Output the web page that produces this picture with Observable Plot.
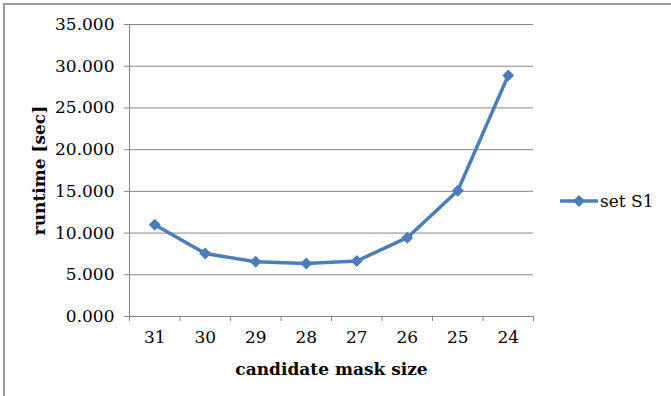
<!DOCTYPE html>
<html>
<head>
<meta charset="utf-8">
<script src="https://cdn.jsdelivr.net/npm/d3@7"></script>
<script src="https://cdn.jsdelivr.net/npm/@observablehq/plot@0.6"></script>
<style>
  html, body { margin: 0; padding: 0; background: #fff; }
  #wrap { position: relative; width: 671px; height: 396px; overflow: hidden; font-family: "DejaVu Serif", serif; }
  #frame { position: absolute; left: 3px; top: 3px; width: 700px; height: 400px; border-left: 2px solid #9a9a9a; border-top: 2px solid #9a9a9a; pointer-events: none; }
  #chart { position: absolute; left: 0; top: 0; }
  #legend { position: absolute; left: 559px; top: 191px; display: flex; align-items: center; font-size: 17px; color: #000; font-family: "DejaVu Serif", serif; }
</style>
</head>
<body>
<div id="wrap">
  <div id="chart"></div>
  <div id="frame"></div>
  <div id="legend"></div>
</div>
<script>
const categories = ["31", "30", "29", "28", "27", "26", "25", "24"];
const runtimes = [11.0, 7.55, 6.55, 6.35, 6.65, 9.45, 15.07, 28.9];
const yTicks = [0, 5, 10, 15, 20, 25, 30, 35];
const seriesName = "set S1";
const xTitle = "candidate mask size";
const yTitle = "runtime [sec]";

const blue = "#4a7ebb";
const gray = "#868686";

const data = categories.map((c, i) => ({i, c, v: runtimes[i]}));
const indices = categories.map((c, i) => i);
const boundaries = d3.range(categories.length + 1).map(k => k - 0.5);

const chart = Plot.plot({
  width: 671,
  height: 396,
  marginLeft: 129,
  marginRight: 138,
  marginTop: 24,
  marginBottom: 80,
  x: {type: "linear", domain: [-0.5, categories.length - 0.5]},
  y: {domain: [0, 35]},
  style: {fontFamily: "DejaVu Serif", fontSize: "17px", color: "#000", background: "transparent", overflow: "visible"},
  marks: [
    Plot.gridY(yTicks.filter(v => v > 0), {stroke: gray, strokeOpacity: 1, strokeWidth: 1}),
    Plot.ruleY([0], {stroke: gray, strokeWidth: 1}),
    Plot.ruleX([-0.5], {stroke: gray, strokeWidth: 1}),
    Plot.axisY(yTicks, {tickSize: 5, tickPadding: 10, tickFormat: d3.format(".3f"), stroke: gray, fill: "#000", label: null}),
    Plot.axisX(boundaries, {tickSize: 5, tickFormat: () => "", stroke: gray, label: null}),
    Plot.axisX(indices, {tickSize: 0, tickPadding: 14, tickFormat: i => categories[i], fill: "#000", label: null}),
    Plot.text([xTitle], {frameAnchor: "bottom", dy: 53, lineAnchor: "middle", textAnchor: "middle", fontWeight: "bold", fill: "#000"}),
    Plot.text([yTitle], {frameAnchor: "left", dx: -90, rotate: -90, textAnchor: "middle", lineAnchor: "middle", fontWeight: "bold", fill: "#000"}),
    Plot.line(data, {x: "i", y: "v", stroke: blue, strokeWidth: 3.5, strokeLinejoin: "round"}),
    Plot.dot(data, {x: "i", y: "v", symbol: "diamond2", r: 5.4, fill: blue, stroke: "none"})
  ]
});
document.getElementById("chart").appendChild(chart);

const legend = document.getElementById("legend");
legend.innerHTML = `<svg width="40" height="20" style="display:block"><line x1="1" x2="39" y1="10" y2="10" stroke="${blue}" stroke-width="3.5"/><path d="${d3.symbol(d3.symbolDiamond2, 5.4*5.4*Math.PI)()}" transform="translate(20,10)" fill="${blue}"/></svg><span style="margin-left:1px">${seriesName}</span>`;
</script>
</body>
</html>
